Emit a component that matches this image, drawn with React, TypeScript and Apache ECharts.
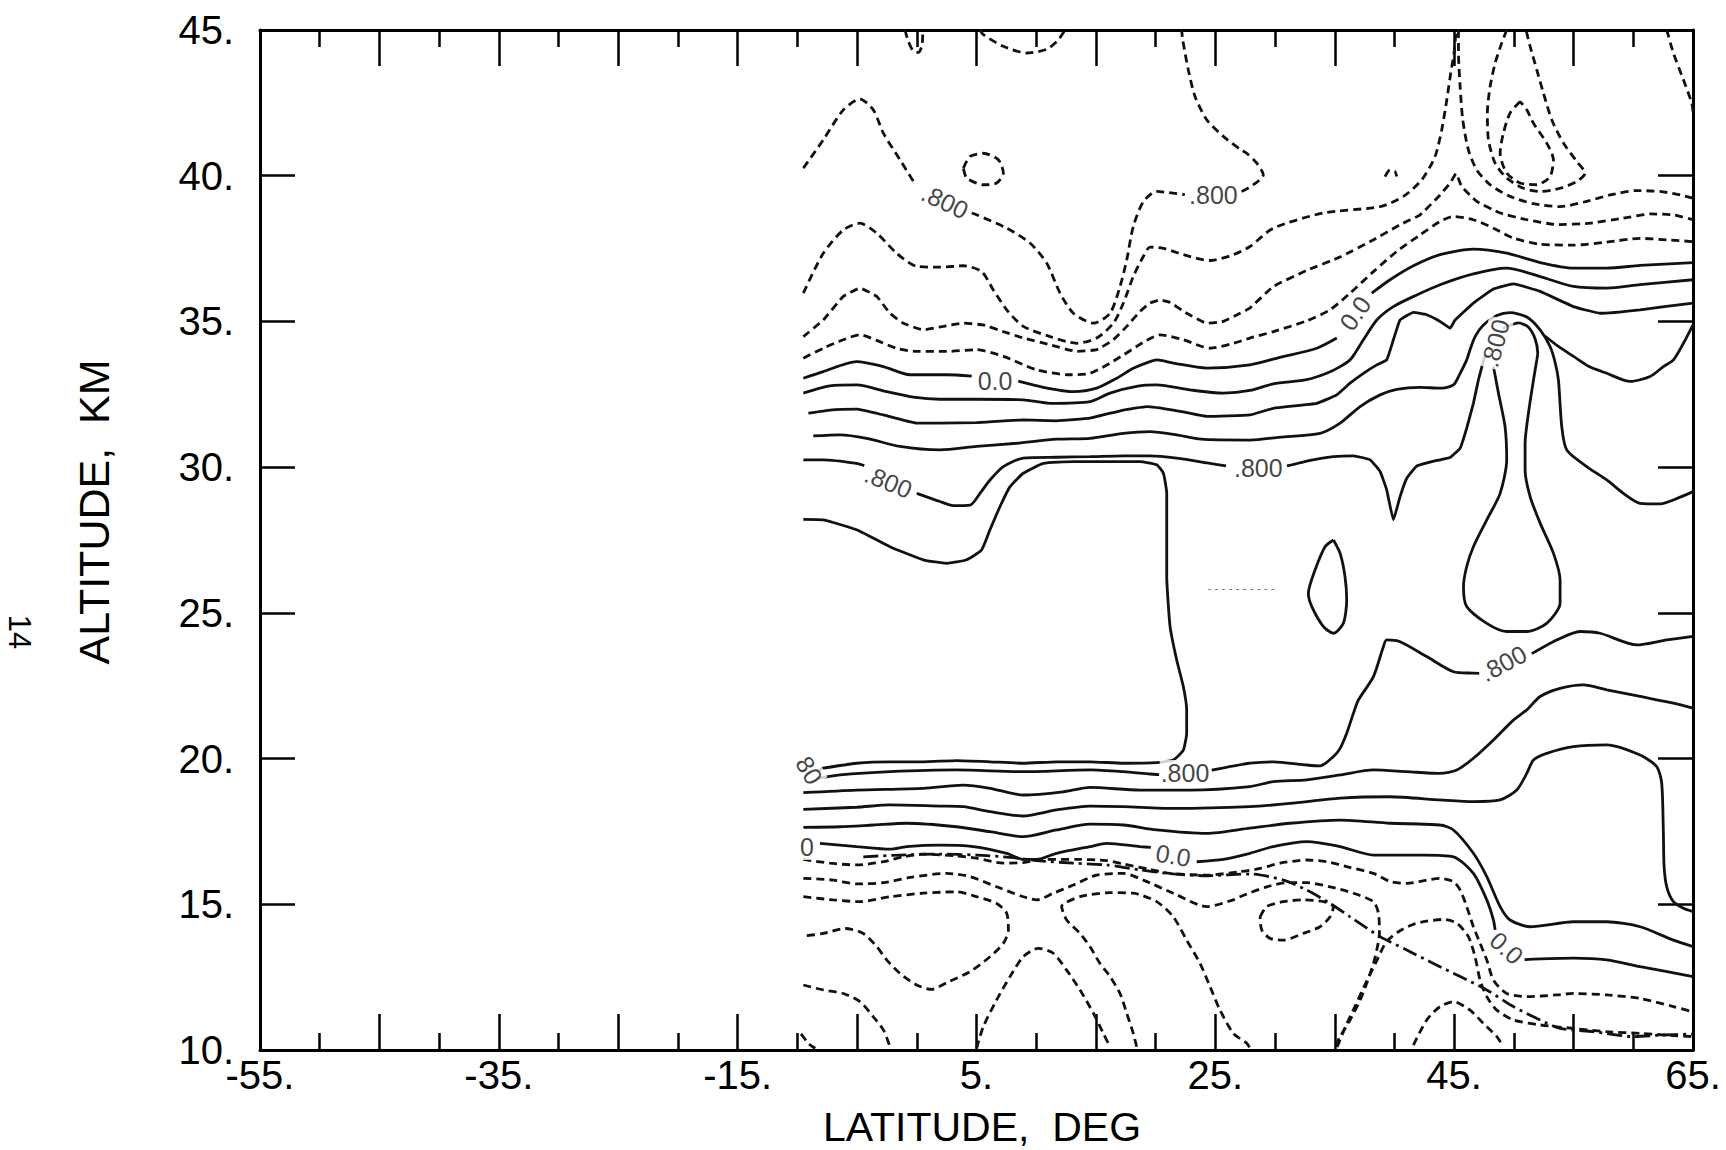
import React, { useEffect, useRef } from "react";
import * as echarts from "echarts";

type Pt = [number, number];

// ---------- axes ----------
const LAT_MIN = -55;
const LAT_MAX = 65;
const ALT_MIN = 10;
const ALT_MAX = 45;
const latLabelValues = [-55, -35, -15, 5, 25, 45, 65];
const altLabelValues = [10, 15, 20, 25, 30, 35, 40, 45];

// ---------- upper region, negative (dashed) contours ----------
const neg08a: Pt[] = [[-9.5,40.26],[-7.83,41.23],[-6.15,42.26],[-4.76,42.63],[-3.64,42.26],[-2.8,41.46],[-1.41,40.55],[-0.2,39.75]];
const neg08b: Pt[] = [[4.6,38.72],[5.0,38.66],[7.53,38.2],[9.48,37.69],[10.88,37.0],[12.0,35.97],[13.11,35.28],[14.79,34.94],[16.18,35.28],[17.02,36.2],[17.58,37.11],[18.13,38.26],[18.97,39.11],[20.09,39.46],[21.48,39.4],[22.45,39.35]];
const neg08c: Pt[] = [[27.2,39.46],[28.19,39.69],[29.02,40.03],[28.47,40.43],[27.63,40.77],[27.07,40.91],[25.67,41.35],[24.28,41.92],[23.3,42.72],[22.74,43.63],[22.27,44.66],[22.18,45.0]];
const negTopJ: Pt[] = [[-0.99,45.0],[-0.7,44.6],[-0.3,44.28],[0.13,44.23],[0.45,44.5],[0.5,45.0]];
const negTopArc: Pt[] = [[5.3,45.0],[5.57,44.84],[7.25,44.44],[9.2,44.21],[10.88,44.34],[11.85,44.66],[12.41,45.0]];
const negRing: Pt[] = [[3.9,40.26],[4.46,40.66],[5.57,40.77],[6.83,40.55],[7.25,40.09],[6.69,39.75],[5.57,39.69],[4.18,39.92],[3.9,40.26]];
const neg06: Pt[] = [[-9.5,35.97],[-7.83,37.34],[-6.15,38.14],[-4.76,38.37],[-3.36,38.03],[-1.69,37.34],[-0.01,36.89],[1.94,36.86],[3.9,36.91],[5.43,36.71],[6.41,36.08],[7.53,35.4],[8.92,34.83],[11.16,34.48],[13.39,34.25],[15.06,34.43],[16.46,34.94],[17.3,35.63],[18.13,36.54],[18.97,37.23],[19.53,37.55],[20.65,37.51],[22.32,37.29],[24.56,37.09],[26.51,37.29],[27.9,37.57],[29.86,38.2],[34.05,38.72],[38.8,38.94],[40.75,39.29],[42.29,39.86],[43.4,40.66],[43.96,41.58],[44.38,42.6],[44.71,43.52],[44.99,44.21],[45.16,45.0]];
const neg04: Pt[] = [[-9.5,34.48],[-7.83,35.05],[-6.15,35.86],[-4.76,36.14],[-3.36,35.86],[-2.25,35.28],[-1.13,34.94],[0.55,34.71],[2.22,34.83],[3.9,34.94],[5.57,34.88],[7.25,34.65],[8.92,34.43],[11.16,34.2],[13.39,33.97],[15.06,34.03],[16.46,34.37],[17.58,34.83],[18.69,35.34],[19.53,35.63],[20.37,35.74],[21.21,35.65],[22.6,35.28],[24.28,34.94],[25.67,35.0],[27.07,35.28],[27.9,35.46],[29.86,36.2],[32.65,36.75],[35.45,37.21],[38.24,37.8],[40.47,38.32],[42.15,38.66],[43.82,39.34],[44.66,39.75],[45.16,40.07],[45.63,39.63],[46.89,39.12],[48.85,38.72],[51.08,38.49],[53.59,38.32],[56.38,38.37],[59.17,38.54],[61.41,38.69],[63.36,38.66],[65.0,38.49]];
const neg02: Pt[] = [[-9.5,33.74],[-7.83,34.08],[-6.15,34.37],[-4.76,34.54],[-3.36,34.35],[-1.69,34.08],[-0.01,33.97],[2.5,33.97],[5.01,34.03],[7.25,33.8],[10.04,33.34],[12.83,33.17],[14.51,33.22],[16.18,33.57],[17.3,33.85],[18.41,34.14],[19.25,34.35],[20.37,34.54],[22.32,34.37],[24.56,34.08],[26.51,34.25],[27.9,34.43],[29.86,34.65],[32.65,35.02],[34.61,35.4],[36.28,35.97],[38.24,36.71],[40.19,37.4],[42.15,37.97],[43.82,38.43],[44.94,38.6],[46.61,38.49],[48.29,38.2],[49.96,37.86],[52.2,37.65],[54.99,37.62],[57.78,37.72],[60.57,37.85],[62.8,37.8],[65.0,37.74]];
const negTongue: Pt[] = [[45.36,45.0],[45.36,44.26],[45.5,43.06],[45.72,41.92],[46.19,40.89],[46.89,40.2],[48.01,39.69],[49.68,39.29],[51.64,39.04],[53.87,38.94],[56.1,39.12],[58.06,39.34],[60.29,39.49],[62.25,39.46],[63.92,39.34],[65.0,39.23]];
const negLoopOuter: Pt[] = [[49.4,45.0],[48.98,44.55],[48.43,43.86],[48.01,43.06],[47.78,42.15],[47.87,41.23],[48.43,40.43],[49.4,39.92],[50.8,39.57],[52.2,39.46],[53.87,39.57],[55.27,39.8],[55.96,40.09],[55.27,40.49],[54.15,41.12],[53.17,41.92],[52.48,42.83],[51.92,43.63],[51.36,44.44],[51.02,45.0]];
const negLoopInner: Pt[] = [[50.52,42.55],[49.68,42.15],[49.12,41.46],[48.85,40.77],[49.4,40.09],[50.52,39.75],[51.92,39.69],[53.03,39.97],[53.31,40.55],[52.75,41.12],[51.64,41.8],[51.08,42.26],[50.52,42.55]];
const negRightTop: Pt[] = [[62.8,45.0],[63.36,44.21],[64.2,43.29],[64.9,42.49],[65.0,42.2]];
const negHook: Pt[] = [[39.21,39.97],[39.63,40.2],[40.05,40.14],[40.19,39.97]];

// ---------- upper region, zero and positive (solid) contours ----------
const zeroA: Pt[] = [[-9.5,33.05],[-7.83,33.28],[-5.04,33.62],[-2.8,33.45],[-0.57,33.17],[2.5,33.17],[4.6,33.12]];
const zeroB: Pt[] = [[8.5,32.95],[10.6,32.74],[13.11,32.59],[15.06,32.71],[16.74,33.05],[18.13,33.39],[19.53,33.62],[20.09,33.68],[21.48,33.57],[24.28,33.4],[27.9,33.51],[30.42,33.77],[33.49,34.08],[35.17,34.43]];
const zeroC: Pt[] = [[38.1,35.97],[39.63,36.43],[41.59,36.91],[43.82,37.29],[46.61,37.48],[49.4,37.34],[52.2,37.02],[54.99,36.83],[57.78,36.83],[60.57,36.92],[65.0,37.02]];
const pos02: Pt[] = [[-9.5,32.54],[-7.27,32.79],[-5.04,32.82],[-2.52,32.59],[-0.29,32.4],[1.94,32.33],[5.01,32.33],[8.92,32.31],[11.16,32.19],[14.51,32.25],[16.18,32.54],[18.41,32.77],[20.09,32.82],[22.88,32.65],[25.67,32.54],[27.9,32.63],[29.86,32.86],[32.65,33.0],[34.33,33.22],[35.45,33.45],[36.28,33.68],[36.7,33.91],[37.4,34.37],[38.52,35.05],[39.91,35.51],[41.87,35.91],[43.82,36.26],[46.61,36.63],[49.4,36.83],[52.2,36.54],[54.99,36.2],[57.78,36.14],[60.57,36.26],[65.0,36.43]];
const pos04: Pt[] = [[-9.08,31.85],[-7.27,31.96],[-5.04,31.99],[-2.8,31.79],[-0.01,31.51],[1.94,31.51],[5.01,31.53],[8.92,31.62],[11.71,31.59],[14.51,31.68],[17.3,31.96],[19.25,32.08],[21.48,31.96],[24.28,31.74],[27.9,31.79],[29.86,32.02],[33.49,32.19],[35.17,32.48],[36.28,32.88],[37.4,33.22],[38.52,33.51],[39.35,33.68],[39.91,34.37],[40.47,35.05],[41.59,35.31],[42.7,35.23],[43.82,35.0],[44.66,34.77],[45.08,35.05],[46.61,35.63],[48.29,36.11],[49.96,36.29],[52.2,36.03],[54.99,35.51],[57.22,35.28],[60.57,35.4],[65.0,35.63]];
const pos06: Pt[] = [[-8.67,31.07],[-6.43,31.11],[-4.2,30.99],[-1.41,30.71],[1.94,30.59],[5.01,30.71],[8.36,30.82],[11.71,30.96],[14.51,30.99],[17.3,31.16],[19.53,31.22],[21.76,31.11],[23.8,30.96],[27.9,30.93],[30.42,31.03],[33.77,31.16],[35.45,31.51],[37.12,32.08],[38.8,32.48],[40.19,32.67],[42.15,32.74],[43.82,32.71],[44.94,32.82],[45.5,33.22],[46.05,33.68],[46.33,34.03],[46.75,34.48],[47.45,34.88],[48.57,35.2],[49.68,35.3],[51.08,35.15],[52.2,34.71],[53.03,34.14],[53.45,33.6],[53.73,32.99],[54.01,31.39],[54.43,30.59],[56.1,30.02],[57.78,29.56],[59.17,29.1],[60.57,28.76],[62.25,28.74],[63.92,28.97],[65.0,29.16]];
const posU: Pt[] = [[52.6,34.5],[53.7,34.15],[55.0,33.8],[56.3,33.45],[57.78,33.22],[59.73,32.94],[61.41,33.11],[62.52,33.45],[63.36,33.68],[64.2,34.25],[65.0,34.88]];
const pos08a: Pt[] = [[-9.5,30.25],[-7.83,30.25],[-5.04,30.13],[-4.4,30.05]];
const pos08b: Pt[] = [[0.0,29.1],[1.94,28.82],[3.06,28.68],[4.46,28.7],[5.29,29.1],[6.13,29.56],[7.25,30.02],[8.92,30.31],[11.71,30.34],[14.51,30.36],[17.3,30.39],[19.53,30.39],[21.76,30.31],[24.56,30.13],[25.9,30.04]];
const pos08c: Pt[] = [[31.0,30.04],[32.65,30.21],[34.89,30.36],[36.56,30.39],[37.96,30.25],[38.8,29.85],[39.35,29.22],[39.91,28.19],[40.47,28.99],[41.03,29.62],[41.87,30.04],[43.54,30.23],[44.66,30.33],[45.5,30.65],[46.05,31.34],[46.61,32.19],[47.03,32.99],[47.4,33.57],[47.59,33.85]];
const pos08d: Pt[] = [[49.1,34.75],[49.54,34.85],[50.38,34.95],[51.22,34.8],[51.78,34.4],[52.0,33.91],[51.92,33.68],[51.64,32.99],[51.22,31.85],[50.94,30.82],[50.94,29.91],[51.36,28.99],[52.2,28.08],[53.31,27.05],[53.87,26.13],[53.87,25.33],[52.75,24.64],[51.08,24.36],[49.4,24.36],[47.73,24.64],[46.05,25.22],[45.78,25.9],[46.05,26.59],[46.61,27.27],[47.73,28.19],[48.85,29.1],[49.4,30.25],[49.26,31.39],[48.71,32.54],[48.29,33.45]];
const pos10Box: Pt[] = [[-9.5,28.21],[-7.83,28.19],[-5.04,27.85],[-2.25,27.27],[0.55,26.82],[2.5,26.7],[4.18,26.82],[5.43,27.16],[6.13,27.85],[6.97,28.65],[7.81,29.33],[8.92,29.79],[10.6,30.13],[13.11,30.19],[15.9,30.19],[18.69,30.19],[20.09,30.08],[20.65,29.79],[20.93,29.1],[20.93,27.96],[20.93,26.24],[21.21,24.53],[21.76,23.39],[22.32,22.47],[22.6,21.67],[22.6,20.87],[22.32,20.29],[21.48,19.95],[20.09,19.86],[17.3,19.84],[14.51,19.89],[11.71,19.89],[8.92,19.84],[6.13,19.89],[3.34,19.93],[0.55,19.89],[-2.25,19.89],[-5.04,19.84],[-7.83,19.67],[-8.39,19.55]];
const posIsland: Pt[] = [[34.89,27.5],[35.45,27.04],[35.86,26.24],[36.0,25.44],[35.72,24.64],[34.89,24.3],[34.05,24.53],[33.07,25.22],[32.79,25.67],[33.35,26.47],[34.19,27.27],[34.89,27.5]];

// ---------- lower region, solid contours ----------
const low08a: Pt[] = [[-8.39,19.32],[-6.43,19.44],[-2.25,19.55],[3.34,19.61],[8.92,19.55],[14.51,19.61],[17.3,19.55],[19.53,19.47],[20.3,19.45]];
const low08b: Pt[] = [[24.7,19.6],[27.9,19.84],[29.86,19.89],[32.65,19.78],[33.77,19.75],[34.89,20.07],[35.45,20.35],[36.0,20.87],[36.56,21.55],[36.98,22.01],[38.24,22.81],[39.07,23.84],[39.35,24.07],[40.47,24.01],[42.7,23.5],[44.94,22.98],[46.61,22.93],[47.1,22.92]];
const low08c: Pt[] = [[51.5,23.6],[53.59,24.07],[55.55,24.36],[57.22,24.3],[60.29,23.9],[62.8,24.07],[65.0,24.19]];
const low06: Pt[] = [[-9.5,18.83],[-5.04,18.92],[0.55,18.98],[3.9,19.09],[6.13,18.98],[8.92,18.75],[12.27,18.86],[14.51,19.01],[18.69,18.92],[22.88,18.92],[27.9,19.04],[29.86,19.21],[32.65,19.27],[35.45,19.44],[38.24,19.61],[41.03,19.55],[43.82,19.49],[45.22,19.61],[46.61,20.01],[48.29,20.64],[49.96,21.32],[51.08,21.67],[52.2,22.13],[53.87,22.41],[55.83,22.53],[57.78,22.36],[60.57,22.13],[63.36,21.9],[65.0,21.73]];
const low04: Pt[] = [[-9.5,18.26],[-5.04,18.33],[-2.25,18.41],[1.94,18.37],[3.9,18.35],[6.13,18.18],[8.92,18.03],[11.71,18.24],[14.51,18.37],[17.3,18.35],[21.48,18.29],[27.9,18.35],[31.26,18.46],[35.45,18.64],[39.63,18.69],[43.82,18.58],[46.61,18.52],[48.85,18.58],[50.24,18.92],[51.08,19.49],[51.64,19.95],[52.75,20.18],[54.99,20.41],[57.78,20.47],[60.57,20.12],[61.97,19.72],[62.38,19.15],[62.52,17.43],[62.58,16.29],[62.8,15.6],[63.36,15.09],[64.2,14.86],[65.0,14.75]];
const low02: Pt[] = [[-9.5,17.64],[-6.43,17.66],[-3.64,17.72],[-0.85,17.78],[3.34,17.66],[6.13,17.49],[8.92,17.32],[11.71,17.55],[14.51,17.75],[17.3,17.72],[20.09,17.55],[24.28,17.43],[27.9,17.61],[31.26,17.78],[35.45,17.89],[39.63,17.78],[43.82,17.72],[44.94,17.55],[46.61,16.75],[47.73,15.95],[48.85,14.92],[49.68,14.46],[51.36,14.23],[54.99,14.4],[57.78,14.4],[60.57,14.23],[63.36,13.77],[65.0,13.55]];
const lowZeroA: Pt[] = [[-8.11,17.09],[-5.04,16.98],[-2.25,16.89],[-0.85,16.98],[1.94,17.03],[4.73,16.98],[7.53,16.75],[8.92,16.54],[10.04,16.54],[11.71,16.75],[14.51,16.98],[15.9,17.09],[18.69,16.98],[19.6,16.95]];
const lowZeroB: Pt[] = [[23.44,16.46],[25.67,16.54],[27.9,16.75],[29.86,16.98],[32.65,17.15],[35.45,16.98],[38.24,16.69],[42.43,16.69],[44.94,16.63],[46.61,16.06],[47.73,15.15],[48.29,14.46],[48.43,14.12]];
const lowZeroC: Pt[] = [[50.9,13.1],[54.99,13.15],[57.78,13.09],[60.57,12.86],[65.0,12.52]];

// ---------- lower region, dashed contours ----------
const lowNeg1: Pt[] = [[-9.5,16.54],[-7.27,16.41],[-5.04,16.35],[-2.8,16.46],[-1.13,16.63],[0.55,16.72],[3.34,16.66],[5.01,16.58],[7.25,16.41],[8.92,16.43],[10.6,16.54],[13.39,16.54],[15.9,16.5],[17.3,16.38],[19.53,16.2],[21.21,16.06],[24.28,16.0],[27.07,16.12],[28.75,16.23],[30.42,16.41],[32.65,16.52],[34.33,16.46],[36.0,16.29],[38.24,16.06],[39.63,15.78],[41.03,15.72],[42.7,15.83],[43.82,15.89],[44.94,15.78],[45.5,15.49],[46.05,14.92],[46.61,14.23],[47.17,13.66],[47.73,13.09],[48.29,12.4],[49.4,11.94],[51.08,11.83],[53.59,11.89],[54.99,11.94],[57.78,11.89],[60.57,11.77],[63.36,11.49],[65.0,11.31]];
const lowNeg2: Pt[] = [[-9.5,15.89],[-6.99,15.83],[-5.04,15.7],[-2.8,15.74],[-0.57,15.92],[2.5,16.06],[4.46,15.95],[6.69,15.6],[8.92,15.26],[10.04,15.15],[11.43,15.38],[13.11,15.66],[15.06,16.0],[17.3,16.06],[18.97,15.83],[21.48,15.38],[24.28,14.92],[26.51,15.15],[27.07,15.26],[29.3,15.6],[30.98,15.74],[32.65,15.74],[34.61,15.6],[36.56,15.38],[38.24,15.09],[38.66,14.69],[38.74,14.0],[38.52,13.43],[38.24,12.97],[37.68,12.29],[37.12,11.71],[36.28,11.03],[35.45,10.46],[35.03,10.11],[34.95,10.0]];
const lowNeg3: Pt[] = [[-9.5,15.26],[-6.99,15.15],[-4.76,15.09],[-2.25,15.26],[0.55,15.38],[3.34,15.43],[5.01,15.26],[6.69,15.03],[7.53,14.69],[7.67,14.12],[7.25,13.66],[6.13,13.2],[4.46,12.69],[2.5,12.31],[1.24,12.08],[-0.01,12.23],[-1.41,12.63],[-2.52,13.09],[-3.36,13.55],[-4.48,14.0],[-6.01,14.17],[-7.83,14.0],[-9.5,13.91]];
const lowNeg4: Pt[] = [[-9.5,12.23],[-7.83,12.06],[-6.15,11.94],[-4.76,11.66],[-3.64,11.14],[-2.8,10.69],[-2.25,10.12],[-2.2,10.0]];
const lowNeg5: Pt[] = [[-9.7,10.55],[-9.0,10.2],[-8.5,10.06]];
const lowArchA: Pt[] = [[18.41,10.11],[18.13,10.57],[17.58,11.26],[17.02,11.94],[16.18,12.52],[15.34,12.97],[14.51,13.54],[13.67,14.0],[12.55,14.46],[12.13,14.92],[13.67,15.26],[16.18,15.4],[18.13,15.38],[20.09,15.09],[21.48,14.57],[22.6,13.77],[23.72,12.97],[24.56,12.17],[25.39,11.37],[26.51,10.57],[27.63,10.23],[27.91,10.05]];
const lowArchB: Pt[] = [[5.01,10.06],[5.57,10.8],[6.69,11.72],[7.81,12.52],[8.92,13.2],[10.18,13.49],[11.43,13.32],[12.55,12.74],[13.67,12.06],[14.79,11.26],[15.62,10.57],[16.18,10.11]];
const lowArchC: Pt[] = [[35.2,10.1],[35.9,10.8],[36.7,11.5],[37.6,12.3],[38.5,13.05],[39.3,13.7],[40.3,14.05],[41.5,14.3],[42.7,14.42],[44.1,14.48],[45.22,14.35],[46.19,13.89],[46.75,13.2],[47.17,12.4],[47.73,11.83],[48.57,11.37],[49.96,11.03],[52.2,10.86],[54.99,10.74],[57.78,10.63],[60.57,10.57],[62.8,10.51],[65.0,10.46]];
const lowArchD: Pt[] = [[41.59,10.17],[42.7,11.03],[43.82,11.49],[44.94,11.66],[46.33,11.37],[47.45,10.91],[48.57,10.46],[49.12,10.11]];
const lowNegRing: Pt[] = [[28.75,14.57],[29.3,14.92],[30.7,15.09],[32.37,15.15],[34.05,15.09],[34.89,14.92],[34.61,14.57],[33.77,14.23],[32.37,14.0],[30.7,13.77],[29.58,13.83],[28.88,14.12],[28.75,14.57]];
const dashDotTrace: Pt[] = [[-4.48,16.63],[-1.41,16.69],[1.94,16.72],[5.01,16.69],[7.81,16.61],[10.04,16.5],[13.11,16.41],[15.9,16.35],[18.69,16.18],[21.48,16.04],[24.28,15.98],[27.9,16.04],[30.7,15.83],[32.65,15.49],[34.61,15.03],[36.28,14.57],[38.8,13.89],[41.03,13.43],[43.26,12.97],[45.5,12.52],[47.73,12.06],[49.96,11.49],[52.2,11.03],[53.87,10.74],[56.66,10.63],[60.01,10.46],[62.25,10.51],[65.0,10.55]];
const faintTrace: Pt[] = [[24.4,25.8],[30.1,25.8]];

// ---------- contour labels ----------
const labelTexts = [".800", ".800", "0.0", "0.0", ".800", ".800", ".800", ".800", ".800", "0.0", "0.0", "0", "80"];
const labelLats = [2.36, 24.84, 6.55, 36.7, -2.38, 28.6, 48.43, 22.46, 49.12, 21.48, 49.4, -9.2, -9.0];
const labelAlts = [39.12, 39.34, 32.94, 35.28, 29.5, 29.97, 34.25, 19.52, 23.27, 16.68, 13.5, 16.95, 19.6];
const labelAngles = [-25, 0, 0, 55, -22, 0, 75, 0, 28, -10, -42, 0, -60];

const DASH = [8, 5];
const DASHDOT = [15, 5, 3, 5];

const LINES: { d: Pt[]; kind: "solid" | "dash" | "dashdot" | "faint"; smooth?: number }[] = [
  { d: neg08a, kind: "dash" }, { d: neg08b, kind: "dash" }, { d: neg08c, kind: "dash" },
  { d: negTopJ, kind: "dash" }, { d: negTopArc, kind: "dash" }, { d: negRing, kind: "dash" },
  { d: neg06, kind: "dash" }, { d: neg04, kind: "dash", smooth: 0.12 }, { d: neg02, kind: "dash" },
  { d: negTongue, kind: "dash" }, { d: negLoopOuter, kind: "dash" }, { d: negLoopInner, kind: "dash" },
  { d: negRightTop, kind: "dash" }, { d: negHook, kind: "dash" },
  { d: zeroA, kind: "solid" }, { d: zeroB, kind: "solid" }, { d: zeroC, kind: "solid" },
  { d: pos02, kind: "solid" }, { d: pos04, kind: "solid", smooth: 0.1 }, { d: pos06, kind: "solid" },
  { d: posU, kind: "solid" }, { d: pos08a, kind: "solid" }, { d: pos08b, kind: "solid" },
  { d: pos08c, kind: "solid", smooth: 0.1 }, { d: pos08d, kind: "solid" }, { d: pos10Box, kind: "solid", smooth: 0.15 },
  { d: posIsland, kind: "solid" },
  { d: low08a, kind: "solid" }, { d: low08b, kind: "solid" }, { d: low08c, kind: "solid" },
  { d: low06, kind: "solid" }, { d: low04, kind: "solid" }, { d: low02, kind: "solid" },
  { d: lowZeroA, kind: "solid" }, { d: lowZeroB, kind: "solid" }, { d: lowZeroC, kind: "solid" },
  { d: lowNeg1, kind: "dash" }, { d: lowNeg2, kind: "dash" }, { d: lowNeg3, kind: "dash" },
  { d: lowNeg4, kind: "dash" }, { d: lowNeg5, kind: "dash" }, { d: lowArchA, kind: "dash" },
  { d: lowArchB, kind: "dash" }, { d: lowArchC, kind: "dash" }, { d: lowArchD, kind: "dash" },
  { d: lowNegRing, kind: "dash" }, { d: dashDotTrace, kind: "dashdot" }, { d: faintTrace, kind: "faint" },
];

const FONT = '"Liberation Sans", Arial, Helvetica, sans-serif';

function buildOption() {
  const lineSeries = LINES.map((l) => ({
    type: "line",
    data: l.d,
    xAxisIndex: 0,
    yAxisIndex: 0,
    symbol: "none",
    showSymbol: false,
    smooth: l.smooth ?? 0.25,
    silent: true,
    z: 2,
    lineStyle: {
      color: l.kind === "faint" ? "#777" : "#111",
      width: l.kind === "faint" ? 1 : 2.8,
      type: l.kind === "dash" ? DASH : l.kind === "dashdot" ? DASHDOT : l.kind === "faint" ? [3, 4] : "solid",
      cap: "butt",
    },
  }));

  const labelSeries = {
    type: "scatter",
    xAxisIndex: 0,
    yAxisIndex: 0,
    symbol: "circle",
    symbolSize: 1,
    silent: true,
    z: 5,
    itemStyle: { color: "rgba(0,0,0,0)" },
    data: labelTexts.map((t, i) => ({
      value: [labelLats[i], labelAlts[i]],
      label: {
        show: true,
        formatter: t,
        position: "inside",
        rotate: labelAngles[i],
        fontSize: 25,
        fontFamily: FONT,
        color: "#111",
        backgroundColor: "#fff",
        padding: [0, 1],
      },
    })),
  };

  const tickStyle = { color: "#000", width: 2.5 };
  const axisLineStyle = { color: "#000", width: 3 };

  const xBase = {
    type: "value",
    min: LAT_MIN,
    max: LAT_MAX,
    interval: 10,
    splitLine: { show: false },
    axisLine: { show: true, onZero: false, lineStyle: axisLineStyle },
    axisTick: { show: true, inside: true, length: 36, lineStyle: tickStyle },
    minorTick: { show: true, splitNumber: 2, length: 17, lineStyle: tickStyle },
    minorSplitLine: { show: false },
  };
  const yBase = {
    type: "value",
    min: ALT_MIN,
    max: ALT_MAX,
    interval: 5,
    splitLine: { show: false },
    axisLine: { show: true, onZero: false, lineStyle: axisLineStyle },
    axisTick: { show: true, inside: true, length: 35, lineStyle: tickStyle },
  };

  return {
    animation: false,
    backgroundColor: "#fff",
    grid: { left: 260, right: 33, top: 30, bottom: 100, containLabel: false, outerBoundsMode: "none" },
    xAxis: [
      {
        ...xBase,
        position: "bottom",
        axisLabel: {
          show: true,
          showMinLabel: true,
          showMaxLabel: true,
          margin: 5,
          fontSize: 40,
          fontFamily: FONT,
          color: "#000",
          formatter: (v: number) => (latLabelValues.includes(Math.round(v)) ? `${Math.round(v)}.` : ""),
        },
      },
      { ...xBase, position: "top", axisLabel: { show: false } },
    ],
    yAxis: [
      {
        ...yBase,
        position: "left",
        axisLabel: {
          show: true,
          showMinLabel: true,
          showMaxLabel: true,
          margin: 26,
          fontSize: 40,
          fontFamily: FONT,
          color: "#000",
          formatter: (v: number) => (altLabelValues.includes(Math.round(v)) ? `${Math.round(v)}.` : ""),
        },
      },
      { ...yBase, position: "right", axisLabel: { show: false } },
    ],
    graphic: [
      {
        type: "text",
        x: 982,
        y: 1127,
        style: { text: "LATITUDE,  DEG", fontSize: 41, fontFamily: FONT, fill: "#000", align: "center", verticalAlign: "middle" },
      },
      {
        type: "text",
        x: 94,
        y: 512,
        rotation: Math.PI / 2,
        style: { text: "ALTITUDE,  KM", fontSize: 43, fontFamily: FONT, fill: "#000", align: "center", verticalAlign: "middle" },
      },
      {
        type: "text",
        x: 19,
        y: 632,
        rotation: -Math.PI / 2,
        style: { text: "14", fontSize: 31, fontFamily: FONT, fill: "#000", align: "center", verticalAlign: "middle" },
      },
    ],
    series: [...lineSeries, labelSeries],
  };
}

export default function App() {
  const ref = useRef<HTMLDivElement | null>(null);
  useEffect(() => {
    if (!ref.current) return;
    const chart = echarts.init(ref.current, undefined, { renderer: "svg" });
    chart.setOption(buildOption() as any);
    return () => chart.dispose();
  }, []);
  return (
    <div
      ref={ref}
      style={{ position: "fixed", left: 0, top: 0, width: 1726, height: 1150, background: "#fff" }}
    />
  );
}
